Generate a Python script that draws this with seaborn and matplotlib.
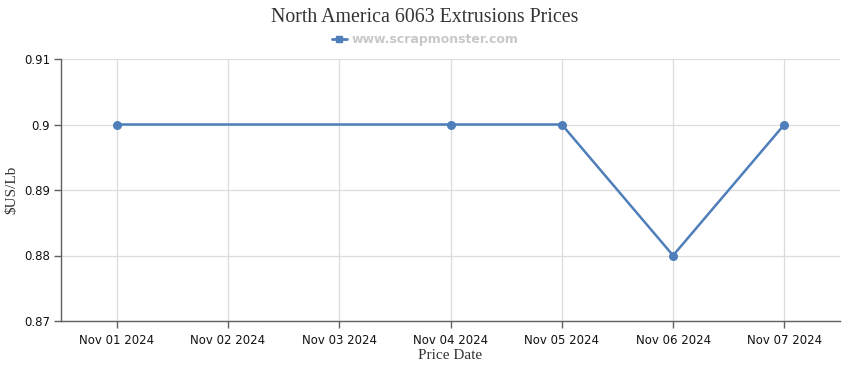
import numpy as np
import pandas as pd
import matplotlib.pyplot as plt
import seaborn as sns
from matplotlib.lines import Line2D

# Chart data
dates = ["Nov 01 2024", "Nov 02 2024", "Nov 03 2024", "Nov 04 2024",
         "Nov 05 2024", "Nov 06 2024", "Nov 07 2024"]
prices = [0.90, np.nan, np.nan, 0.90, 0.90, 0.88, 0.90]
y_ticks = [0.87, 0.88, 0.89, 0.9, 0.91]
y_tick_labels = ["0.87", "0.88", "0.89", "0.9", "0.91"]

df = pd.DataFrame({"date": dates, "price": prices})
df["pos"] = range(len(df))
df_valid = df.dropna()

sns.set_style("white")
plt.rcParams['font.family'] = ['DejaVu Sans']

line_color = '#4f7fba'
grid_color = '#dcdcdc'
axis_color = '#606060'

fig = plt.figure(figsize=(8.5, 3.7), dpi=100)
ax = fig.add_axes([61 / 850, 49 / 370, 779 / 850, 262 / 370])

sns.lineplot(data=df_valid, x="pos", y="price", color=line_color, linewidth=1.8,
             marker='o', markersize=6.5, markeredgewidth=0, ax=ax)

ax.set_xlim(-0.5, len(dates) - 0.5)
ax.set_ylim(0.87, 0.91)
ax.set_xticks(range(len(dates)))
ax.set_xticklabels(dates)
ax.set_yticks(y_ticks)
ax.set_yticklabels(y_tick_labels)

ax.grid(True, color=grid_color, linewidth=0.9)
ax.set_axisbelow(True)
for side in ['top', 'right']:
    ax.spines[side].set_visible(False)
for side in ['left', 'bottom']:
    ax.spines[side].set_color(axis_color)
    ax.spines[side].set_linewidth(1)

ax.tick_params(axis='both', which='major', length=5, width=1, color=axis_color,
               labelsize=8.5, labelcolor='#111111', direction='out')
ax.tick_params(axis='x', pad=4, bottom=True)
ax.tick_params(axis='y', pad=3, left=True)

ax.set_xlabel("Price Date", family='Liberation Serif', fontsize=11, color='#333333', labelpad=2)
ax.set_ylabel("$US/Lb", family='Liberation Serif', fontsize=11, color='#333333')
ax.yaxis.set_label_coords(-43 / 779, 0.5)

fig.suptitle("North America 6063 Extrusions Prices", family='Liberation Serif',
             fontsize=14.3, color='#333333', y=1 - 17 / 370, va='center')

handle = Line2D([0], [0], color=line_color, linewidth=2, marker='s', markersize=5)
leg = fig.legend(handles=[handle], labels=["www.scrapmonster.com"], loc='center',
                 bbox_to_anchor=(0.5, 1 - 40 / 370), frameon=False, handlelength=1.2,
                 handletextpad=0.4, prop={'weight': 'bold', 'size': 9})
for t in leg.get_texts():
    t.set_color('#c8c8c8')

fig.savefig("out.png", dpi=100)
